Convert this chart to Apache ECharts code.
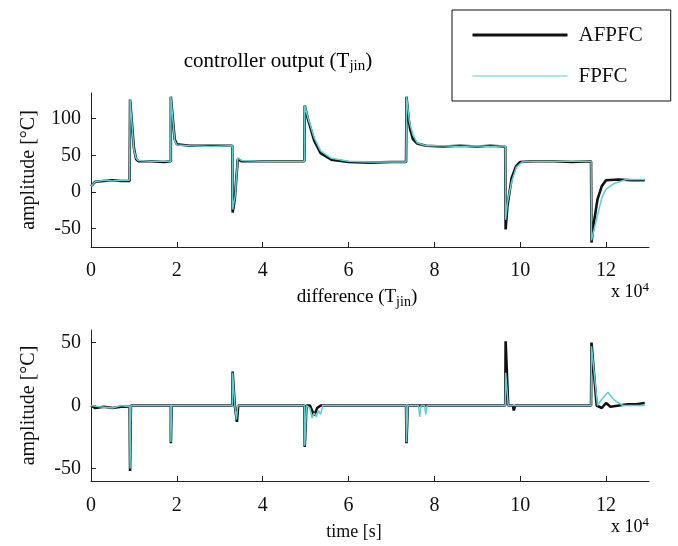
<!DOCTYPE html>
<html>
<head>
<meta charset="utf-8">
<script src="https://cdn.jsdelivr.net/npm/echarts@6/dist/echarts.min.js"></script>
<style>
  html, body { margin: 0; padding: 0; background: #fff; }
  #main { width: 678px; height: 546px; }
</style>
</head>
<body>
<div id="main"></div>
<script>
// time axis is in units of 1e4 s
var xTicks = [0, 2, 4, 6, 8, 10, 12];
var yTicksTop = [-50, 0, 50, 100];
var yTicksBottom = [-50, 0, 50];

// controller output, AFPFC
var outAfpfcT = [0, 0.1, 0.3, 0.5, 0.7, 0.9, 0.91, 0.93, 1.0, 1.05, 1.1, 1.4, 1.7, 1.86, 1.86, 1.88, 1.95, 2.0, 2.3, 2.8, 3.29, 3.30, 3.35, 3.42, 3.5, 4.0, 4.5, 4.97, 4.98, 5.05, 5.2, 5.35, 5.6, 6.0, 6.5, 7.0, 7.34, 7.35, 7.4, 7.43, 7.5, 7.6, 7.8, 8.2, 8.6, 9.0, 9.3, 9.65, 9.66, 9.7, 9.8, 9.9, 10.0, 10.3, 10.8, 11.2, 11.65, 11.66, 11.72, 11.8, 11.9, 12.0, 12.3, 12.6, 12.9];
var outAfpfcY = [8, 14, 15, 16, 15, 15, 126, 126, 60, 45, 42, 42, 41, 42, 130, 128, 72, 65, 63, 63, 63, -28, -10, 45, 42, 42, 42, 42, 118, 100, 70, 53, 44, 41, 40, 41, 41, 130, 100, 87, 72, 66, 63, 62, 63, 62, 63, 62, -51, -20, 19, 35, 41, 42, 42, 41, 42, -69, -40, -10, 8, 16, 17, 16, 16];

// controller output, FPFC
var outFpfcT = [0, 0.1, 0.3, 0.5, 0.7, 0.9, 0.91, 0.93, 1.0, 1.05, 1.1, 1.4, 1.7, 1.86, 1.86, 1.88, 1.95, 2.0, 2.3, 2.8, 3.29, 3.30, 3.36, 3.42, 3.5, 4.0, 4.5, 4.97, 4.98, 5.05, 5.2, 5.35, 5.6, 6.0, 6.5, 7.0, 7.34, 7.35, 7.42, 7.5, 7.6, 7.8, 8.2, 8.6, 9.0, 9.3, 9.65, 9.66, 9.7, 9.8, 9.91, 10.05, 10.3, 10.8, 11.2, 11.65, 11.66, 11.77, 11.9, 12.0, 12.2, 12.47, 12.7, 12.9];
var outFpfcY = [8, 14, 16, 15, 16, 16, 126, 125, 58, 46, 43, 42, 42, 42, 130, 128, 70, 64, 63, 62, 63, -24, -5, 47, 43, 42, 42, 42, 118, 102, 74, 56, 46, 42, 41, 41, 41, 131, 95, 78, 67, 63, 63, 62, 63, 62, 63, -38, -15, 14, 34, 41, 42, 42, 42, 42, -66, -39, -8, 4, 12, 17, 17, 17];

// difference, AFPFC
var diffAfpfcT = [0, 0.1, 0.3, 0.5, 0.7, 0.9, 0.91, 0.93, 1.86, 1.86, 1.88, 3.29, 3.30, 3.35, 3.40, 3.43, 4.97, 4.98, 5.02, 5.1, 5.2, 5.27, 5.35, 7.34, 7.35, 7.38, 9.65, 9.66, 9.72, 9.83, 9.85, 9.88, 11.65, 11.66, 11.78, 11.9, 12.0, 12.1, 12.3, 12.5, 12.7, 12.9];
var diffAfpfcY = [0, -2, -1, -2, -1, -1, -52, 0, 0, -30, 0, 0, 27, 0, -13, 0, 0, -33, 0, 0, -8, -2, 0, 0, -30, 0, 0, 51, 0, 0, -4, 0, 0, 50, 0, -2, 2, -1, 0, 1, 1, 2];

// difference, FPFC
var diffFpfcT = [0, 0.2, 0.5, 0.7, 0.9, 0.91, 0.93, 1.86, 1.86, 1.88, 3.29, 3.30, 3.35, 3.39, 3.42, 4.97, 4.98, 5.02, 5.1, 5.15, 5.2, 5.25, 5.3, 5.35, 5.4, 7.34, 7.35, 7.38, 7.63, 7.66, 7.69, 7.77, 7.8, 7.83, 9.65, 9.66, 9.72, 11.65, 11.66, 11.8, 11.9, 12.04, 12.2, 12.39, 12.9];
var diffFpfcY = [0, -1, -2, 0, -1, -50, 0, 0, -29, 0, 0, 26, 0, -11, 0, 0, -32, 0, -2, -10, -6, -9, -4, -7, 0, 0, -29, 0, 0, -9, 0, 0, -7, 0, 0, 26, 0, 0, 47, 0, 5, 10.6, 4, 0, 0];

function pairs(t, y) {
  var out = [];
  for (var i = 0; i < t.length; i++) out.push([t[i], y[i]]);
  return out;
}

var black = '#111111';
var cyan = '#5ecece';
var font = '"Liberation Serif", "DejaVu Serif", serif';

function xAxisOpt(idx, margin) {
  return {
    gridIndex: idx, type: 'value', min: 0, max: 13,
    axisLine: { onZero: false, lineStyle: { color: '#222', width: 1 } },
    axisTick: { inside: true, length: 5, customValues: xTicks, lineStyle: { color: '#222' } },
    axisLabel: { customValues: xTicks, color: '#111', fontFamily: font, fontSize: 20, margin: margin },
    splitLine: { show: false }
  };
}
function yAxisOpt(idx, min, max, ticks) {
  return {
    gridIndex: idx, type: 'value', min: min, max: max,
    name: 'amplitude [°C]', nameLocation: 'middle', nameGap: 52, nameRotate: 90,
    nameTextStyle: { color: '#111', fontFamily: font, fontSize: 20 },
    axisLine: { show: true, lineStyle: { color: '#222', width: 1 } },
    axisTick: { show: true, inside: true, length: 5, customValues: ticks, lineStyle: { color: '#222' } },
    axisLabel: { customValues: ticks, color: '#111', fontFamily: font, fontSize: 20, margin: 10 },
    splitLine: { show: false }
  };
}

function rich(size) {
  return {
    base: { fontFamily: font, fontSize: size, color: '#111' },
    sub: { fontFamily: font, fontSize: Math.round(size * 0.72), color: '#111', padding: [Math.round(size * 0.5), 0, 0, 0] },
    sup: { fontFamily: font, fontSize: Math.round(size * 0.72), color: '#111', padding: [0, 0, Math.round(size * 0.5), 0] }
  };
}

var chart = echarts.init(document.getElementById('main'));
chart.setOption({
  animation: false,
  backgroundColor: '#fff',
  legend: {
    left: 452, top: 10, orient: 'vertical',
    data: [
      { name: 'AFPFC', lineStyle: { width: 3, color: black } },
      { name: 'FPFC', lineStyle: { width: 1.2, color: cyan } }
    ],
    itemWidth: 95, itemHeight: 22, itemGap: 19,
    itemStyle: { opacity: 0 },
    padding: [14, 28, 14, 19],
    borderColor: '#111', borderWidth: 1,
    textStyle: { fontFamily: font, fontSize: 21, color: '#111', lineHeight: 22, padding: [0, 0, 0, 6] }
  },
  grid: [
    { left: 91, right: 29, top: 93, height: 154 },
    { left: 91, right: 29, top: 330, height: 151 }
  ],
  xAxis: [xAxisOpt(0, 14), xAxisOpt(1, 15)],
  yAxis: [yAxisOpt(0, -75, 135, yTicksTop), yAxisOpt(1, -60, 60, yTicksBottom)],
  graphic: [
    { type: 'text', x: 278, y: 61, style: { text: '{base|controller output (T}{sub|jin}{base|)}', rich: rich(21), align: 'center', verticalAlign: 'middle' } },
    { type: 'text', x: 357, y: 297, style: { text: '{base|difference (T}{sub|jin}{base|)}', rich: rich(19), align: 'center', verticalAlign: 'middle' } },
    { type: 'text', x: 354, y: 532, style: { text: 'time [s]', fill: '#111', font: '18px ' + font, align: 'center', verticalAlign: 'middle' } },
    { type: 'text', x: 630, y: 292, style: { text: '{base|x 10}{sup|4}', rich: rich(18), align: 'center', verticalAlign: 'middle' } },
    { type: 'text', x: 630, y: 527, style: { text: '{base|x 10}{sup|4}', rich: rich(18), align: 'center', verticalAlign: 'middle' } }
  ],
  series: [
    { name: 'AFPFC', type: 'line', xAxisIndex: 0, yAxisIndex: 0, data: pairs(outAfpfcT, outAfpfcY), symbol: 'none', lineStyle: { color: black, width: 2.6 }, itemStyle: { color: black } },
    { name: 'FPFC', type: 'line', xAxisIndex: 0, yAxisIndex: 0, data: pairs(outFpfcT, outFpfcY), symbol: 'none', lineStyle: { color: cyan, width: 1.5 }, itemStyle: { color: cyan } },
    { name: 'AFPFC', type: 'line', xAxisIndex: 1, yAxisIndex: 1, data: pairs(diffAfpfcT, diffAfpfcY), symbol: 'none', lineStyle: { color: black, width: 2.6 }, itemStyle: { color: black } },
    { name: 'FPFC', type: 'line', xAxisIndex: 1, yAxisIndex: 1, data: pairs(diffFpfcT, diffFpfcY), symbol: 'none', lineStyle: { color: cyan, width: 1.5 }, itemStyle: { color: cyan } }
  ]
});
</script>
</body>
</html>
